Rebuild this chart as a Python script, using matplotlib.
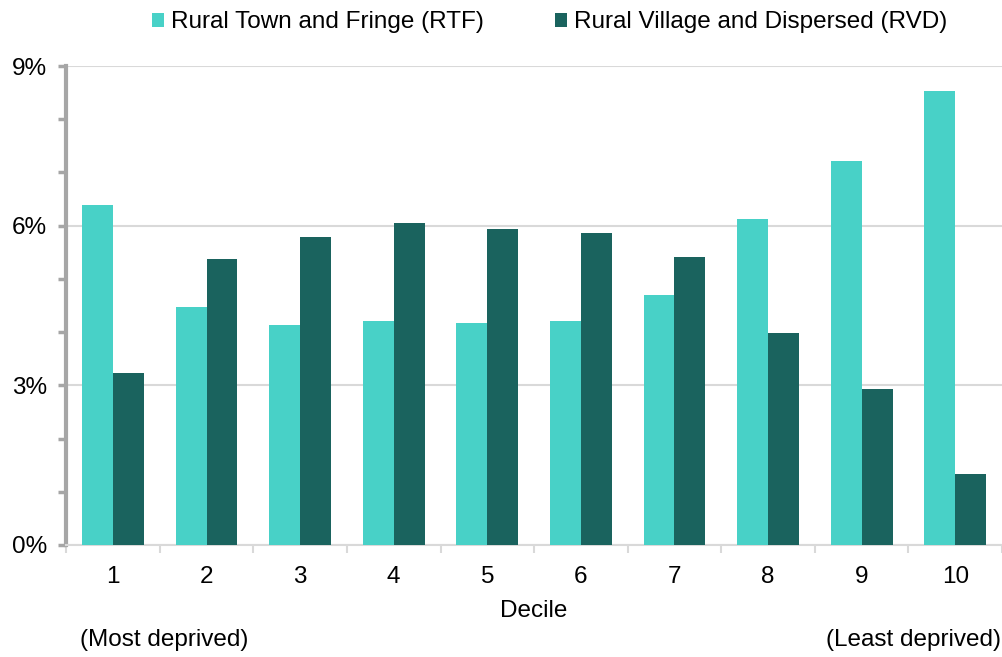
import numpy as np
import matplotlib
matplotlib.use("Agg")
import matplotlib.pyplot as plt
from matplotlib.ticker import MultipleLocator, FuncFormatter

deciles = ["1", "2", "3", "4", "5", "6", "7", "8", "9", "10"]
rtf = [6.39, 4.47, 4.14, 4.21, 4.17, 4.21, 4.70, 6.13, 7.22, 8.53]
rvd = [3.23, 5.38, 5.79, 6.05, 5.94, 5.86, 5.41, 3.98, 2.93, 1.33]

plt.rcParams["font.family"] = ["Liberation Sans", "DejaVu Sans"]
fs = 17.5

fig = plt.figure(figsize=(10.03, 6.57), dpi=100)
ax = fig.add_axes([0.066, 0.1705, 0.933, 0.729])

x = np.arange(len(deciles))
w = 0.33
ax.bar(x - w / 2, rtf, w, color="#48D1C7", label="Rural Town and Fringe (RTF)", zorder=3)
ax.bar(x + w / 2, rvd, w, color="#1A635E", label="Rural Village and Dispersed (RVD)", zorder=3)

ax.set_xlim(-0.5, len(deciles) - 0.5)
ax.set_ylim(0, 9)
ax.yaxis.set_major_locator(MultipleLocator(3))
ax.yaxis.set_minor_locator(MultipleLocator(1))
ax.yaxis.set_major_formatter(FuncFormatter(lambda v, p: f"{v:.0f}%"))
ax.yaxis.grid(True, which="major", color="#D9D9D9", linewidth=1.5, zorder=0)

ax.set_xticks(x)
ax.set_xticklabels(deciles)
ax.set_xticks(np.arange(len(deciles) + 1) - 0.5, minor=True)
ax.tick_params(axis="x", which="major", length=0, pad=15, labelsize=fs)
ax.tick_params(axis="x", which="minor", length=6, color="#D9D9D9", width=1.5)
ax.tick_params(axis="y", which="both", length=6, color="#A6A6A6", width=2.5, labelsize=fs, pad=8)

for s in ["top", "right"]:
    ax.spines[s].set_visible(False)
ax.spines["left"].set_color("#A6A6A6")
ax.spines["left"].set_linewidth(3)
ax.spines["bottom"].set_color("#D9D9D9")
ax.spines["bottom"].set_linewidth(1.5)

ax.set_xlabel("Decile", fontsize=fs, labelpad=9)
fig.text(0.08, 0.026, "(Most deprived)", fontsize=fs, ha="left", va="center")
fig.text(0.998, 0.026, "(Least deprived)", fontsize=fs, ha="right", va="center")

fig.legend(loc="center", bbox_to_anchor=(0.548, 0.966), ncol=2, frameon=False,
           fontsize=fs, handlelength=0.5, handleheight=0.5, handletextpad=0.3,
           columnspacing=2.9)

fig.savefig("out.png", dpi=100)
